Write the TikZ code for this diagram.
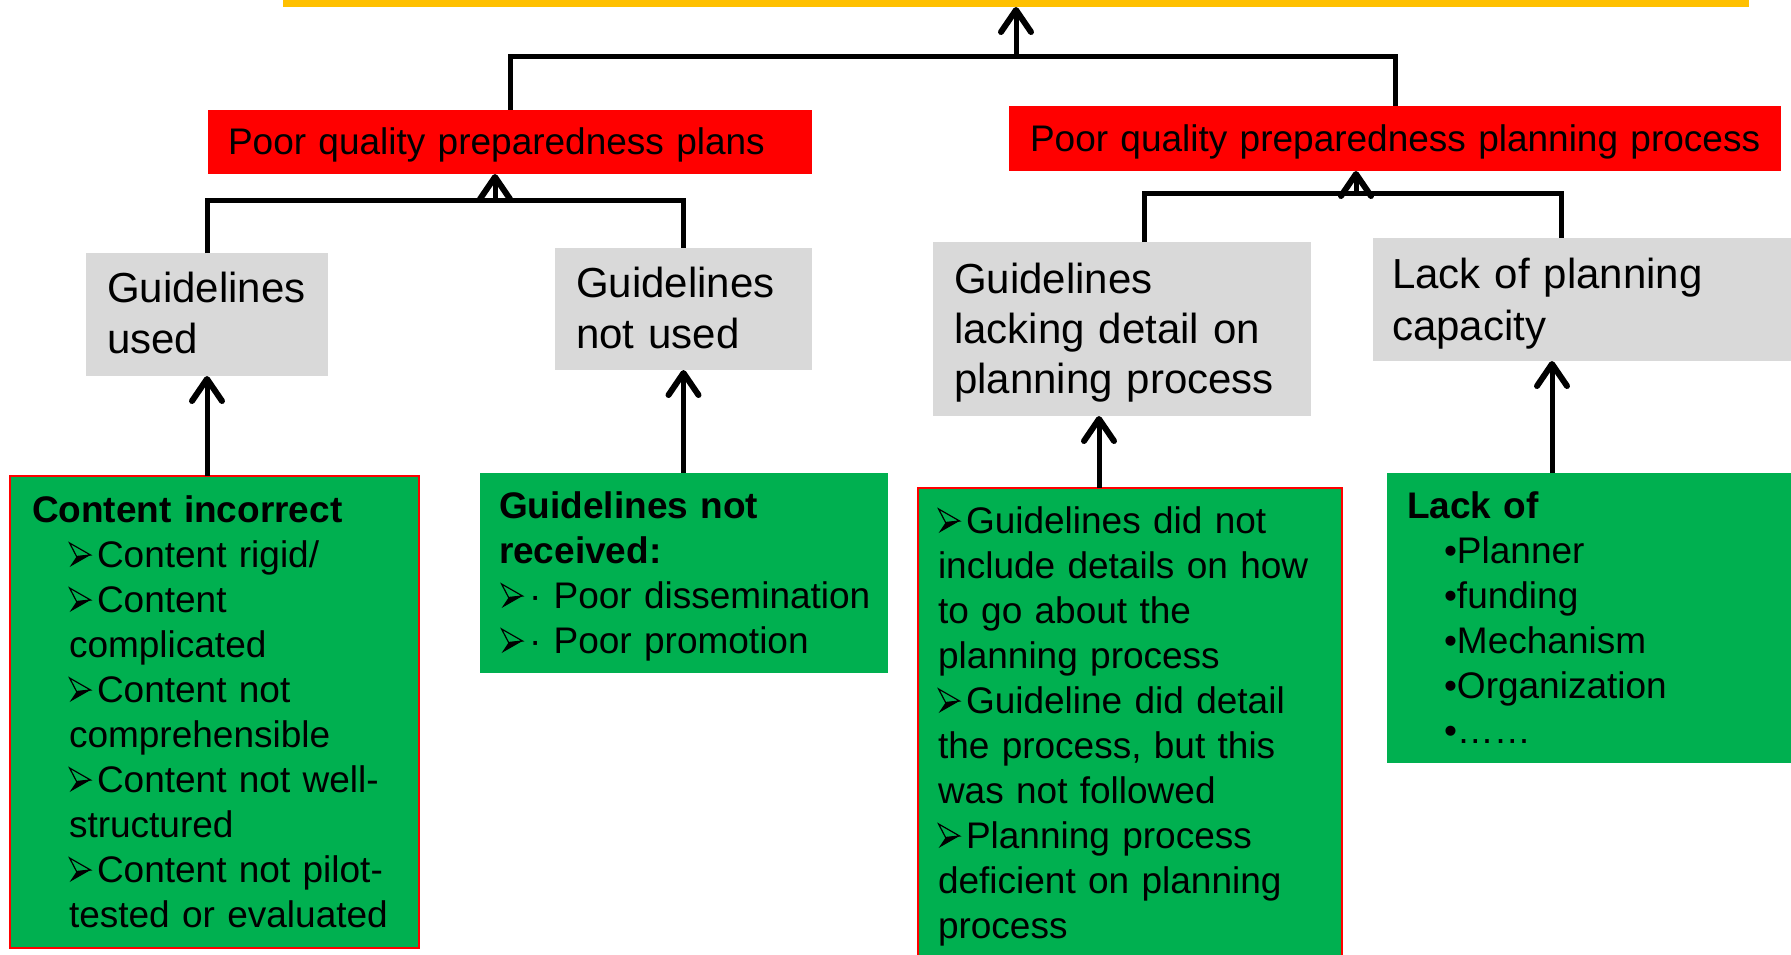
\documentclass[tikz,border=0pt]{standalone}
\usepackage{fontspec}
\setmainfont{Liberation Sans}
\usetikzlibrary{arrows.meta}

\definecolor{barYellow}{HTML}{FFC000}
\definecolor{causeRed}{HTML}{FF0000}
\definecolor{factorGray}{HTML}{D9D9D9}
\definecolor{detailGreen}{HTML}{00B050}

% three-d arrowhead bullet used in the detail boxes
\newcommand\arrowbullet{\makebox[28pt][l]{\pgfinterruptpicture\tikz[x=1pt, y=1pt, baseline=0pt, line join=miter]{%
  \draw[line width=1.2pt] (2,24) -- (23,12) -- (9,10.5) -- cycle;
  \fill (9,10.5) -- (23,12) -- (2,0) -- cycle;}\endpgfinterruptpicture}}

\tikzset{
  box/.style={anchor=north west, inner sep=0pt, outer sep=0pt, rectangle},
  topbar/.style={box, fill=barYellow},
  redbox/.style={box, fill=causeRed},
  graybox/.style={box, fill=factorGray},
  greenbox/.style={box, fill=detailGreen},
  outlined/.style={draw=causeRed, line width=2pt},
  txt/.style={anchor=base west, inner sep=0pt, outer sep=0pt, text width=1000pt, align=left},
  redtxt/.style={txt, font=\fontsize{37}{45}\selectfont},
  graytxt/.style={txt, font=\fontsize{42}{51}\selectfont},
  greentxt/.style={txt, font=\fontsize{37}{45}\selectfont},
  link/.style={line width=5pt, line join=miter},
  arr/.style={link, -{Straight Barb[length=22pt, width=30pt, line width=6pt, round]}},
}

\begin{document}
\begin{tikzpicture}[x=1pt, y=-1pt]
\useasboundingbox (0,0) rectangle (1791,955);
\clip (0,0) rectangle (1791,955);

% boxes
\node[topbar, minimum width=1466pt, minimum height=17pt] (bar) at (283,-10) {};
\node[redbox, minimum width=604pt, minimum height=64pt] (r1) at (208,110) {};
\node[redbox, minimum width=772pt, minimum height=65pt] (r2) at (1009,106) {};
\node[graybox, minimum width=242pt, minimum height=123pt] (gy1) at (86,253) {};
\node[graybox, minimum width=257pt, minimum height=122pt] (gy2) at (555,248) {};
\node[graybox, minimum width=378pt, minimum height=174pt] (gy3) at (933,242) {};
\node[graybox, minimum width=430pt, minimum height=123pt] (gy4) at (1373,238) {};
\node[greenbox, outlined, minimum width=409pt, minimum height=472pt] (c1) at (10,476) {};
\node[greenbox, minimum width=408pt, minimum height=200pt] (c2) at (480,473) {};
\node[greenbox, outlined, minimum width=424pt, minimum height=500pt] (c3) at (918,488) {};
\node[greenbox, minimum width=413pt, minimum height=290pt] (c4) at (1387,473) {};

% texts
\node[redtxt] (r1t) at (228,155) {Poor quality preparedness plans};
\node[redtxt] (r2t) at (1030,152) {Poor quality preparedness planning process};

\node[graytxt] (gy1t) at (107,302) {Guidelines\\used};
\node[graytxt] (gy2t) at (576,297) {Guidelines\\not used};
\node[graytxt, font=\fontsize{42}{50}\selectfont] (gy3t) at (954,293) {Guidelines\\lacking detail on\\planning process};
\node[graytxt, font=\fontsize{42}{52}\selectfont] (gy4t) at (1392,288) {Lack of planning\\capacity};

\node[greentxt, font=\fontsize{37}{45}\selectfont\bfseries] (c1h) at (32,522) {Content incorrect};
\node[greentxt] (c1t) at (69,567) {\arrowbullet Content rigid/\\
  \arrowbullet Content\\
  complicated\\
  \arrowbullet Content not\\
  comprehensible\\
  \arrowbullet Content not well-\\
  structured\\
  \arrowbullet Content not pilot-\\
  tested or evaluated};

\node[greentxt, font=\fontsize{37}{45}\selectfont\bfseries] (c2h) at (499,518) {Guidelines not\\received:};
\node[greentxt] (c2t) at (501,608) {\arrowbullet· Poor dissemination\\
  \arrowbullet· Poor promotion};

\node[greentxt] (c3t) at (938,533) {\arrowbullet Guidelines did not\\
  include details on how\\
  to go about the\\
  planning process\\
  \arrowbullet Guideline did detail\\
  the process, but this\\
  was not followed\\
  \arrowbullet Planning process\\
  deficient on planning\\
  process};

\node[greentxt, font=\fontsize{37}{45}\selectfont\bfseries] (c4h) at (1407,518) {Lack of};
\node[greentxt] (c4t) at (1444,563) {•Planner\\
  •funding\\
  •Mechanism\\
  •Organization\\
  •……};

% connectors
\coordinate (topJ) at (1016,57);
\coordinate (j1) at (495,200);
\coordinate (j2) at (1356,193);

\draw[link] (r1.north) |- (topJ) -| (r2.north);
\draw[arr] (topJ) -- (bar.south);

\draw[link] (gy1.north) |- (j1) -| (gy2.north);
\draw[arr] (j1) -- (r1.south -| j1);

\draw[link] ([xshift=22pt]gy3.north) |- (j2) -| ([xshift=-27pt]gy4.north);
\draw[arr] (j2) -- (r2.south -| j2);

\draw[arr] (c1.north -| gy1.south) -- (gy1.south);
\draw[arr] (c2.north -| gy2.south) -- (gy2.south);
\draw[arr] ([xshift=-31pt]c3.north) -- ([xshift=-23pt]gy3.south);
\draw[arr] ([xshift=-41.5pt]c4.north) -- ([xshift=-36pt]gy4.south);
\end{tikzpicture}
\end{document}
